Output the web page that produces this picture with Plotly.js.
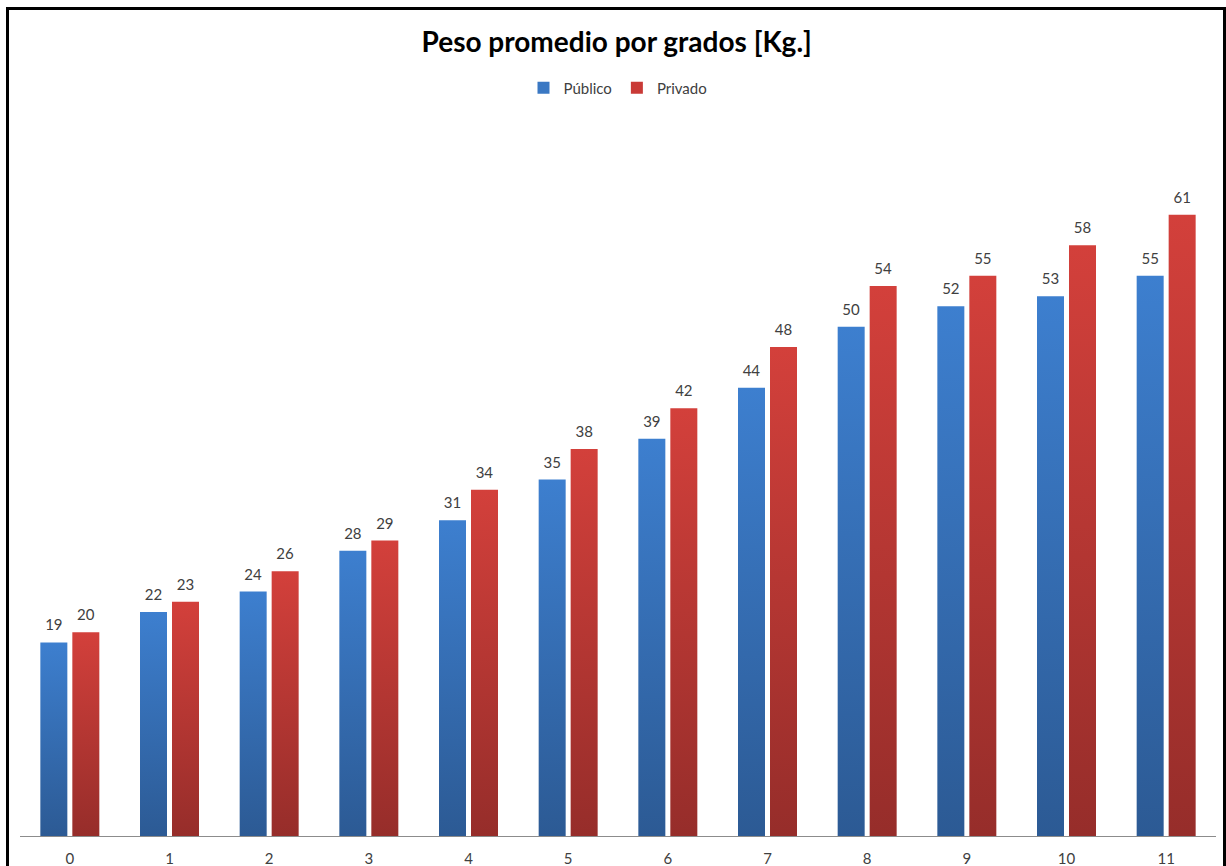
<!DOCTYPE html>
<html>
<head>
<meta charset="utf-8">
<script src="https://cdn.plot.ly/plotly-3.0.1.min.js"></script>
<style>
  html, body { margin: 0; padding: 0; background: #fff; overflow: hidden; }
  #chart { position: absolute; left: 0; top: 0; width: 1226px; height: 866px; }
  #frame { position: absolute; left: 6px; top: 7px; width: 1214px; height: 900px;
           border: 3px solid #000; border-bottom: none; pointer-events: none; }
</style>
</head>
<body>
<div id="chart"></div>
<div id="frame"></div>
<script>
const grados = ['0','1','2','3','4','5','6','7','8','9','10','11'];
const publico = [19, 22, 24, 28, 31, 35, 39, 44, 50, 52, 53, 55];
const privado = [20, 23, 26, 29, 34, 38, 42, 48, 54, 55, 58, 61];

const font = 'Lato, "Open Sans", sans-serif';

const traces = [
  {
    type: 'bar', name: 'Público', x: grados, y: publico,
    marker: { color: '#3a78c3' },
    text: publico.map(String), textposition: 'outside', cliponaxis: false,
    textfont: { family: font, size: 15, color: '#404040' }
  },
  {
    type: 'bar', name: 'Privado', x: grados, y: privado,
    marker: { color: '#c93a36' },
    text: privado.map(String), textposition: 'outside', cliponaxis: false,
    textfont: { family: font, size: 15, color: '#404040' }
  }
];

const layout = {
  width: 1226, height: 866,
  margin: { l: 20, r: 10, t: 123, b: 30 },
  paper_bgcolor: '#ffffff', plot_bgcolor: '#ffffff',
  font: { family: font, size: 15, color: '#404040' },
  title: {
    text: '<b>Peso promedio por grados [Kg.]</b>',
    font: { family: font, size: 28, color: '#000000' },
    x: 0.503, xanchor: 'center', y: 1 - 42 / 866, yanchor: 'middle', yref: 'container'
  },
  showlegend: true,
  legend: {
    orientation: 'h', x: 0.5, xanchor: 'center', y: 1.049, yanchor: 'middle',
    font: { family: font, size: 15, color: '#404040' },
    itemwidth: 30, traceorder: 'normal'
  },
  barmode: 'group', bargap: 0.358, bargroupgap: 0.156,
  xaxis: {
    type: 'category', showgrid: false, zeroline: false,
    showline: true, linecolor: '#8c8c8c', linewidth: 1,
    ticks: 'outside', ticklen: 9, tickcolor: 'rgba(0,0,0,0)',
    tickfont: { family: font, size: 15, color: '#404040' }
  },
  yaxis: {
    range: [0, 70], visible: false, showgrid: false, zeroline: false, fixedrange: true
  }
};

Plotly.newPlot('chart', traces, layout, { displayModeBar: false, staticPlot: true }).then(function (gd) {
  const svg = gd.querySelector('.main-svg');
  const ns = 'http://www.w3.org/2000/svg';
  let defs = svg.querySelector('defs');
  if (!defs) { defs = document.createElementNS(ns, 'defs'); svg.insertBefore(defs, svg.firstChild); }
  function grad(id, c1, c2) {
    const lg = document.createElementNS(ns, 'linearGradient');
    lg.setAttribute('id', id);
    lg.setAttribute('x1', '0'); lg.setAttribute('y1', '0');
    lg.setAttribute('x2', '0'); lg.setAttribute('y2', '1');
    [[0, c1], [1, c2]].forEach(function (s) {
      const st = document.createElementNS(ns, 'stop');
      st.setAttribute('offset', s[0]);
      st.setAttribute('stop-color', s[1]);
      lg.appendChild(st);
    });
    defs.appendChild(lg);
  }
  grad('gPub', '#3d7fcf', '#2c5a94');
  grad('gPriv', '#d3403b', '#962d2a');
  const ids = ['gPub', 'gPriv'];
  gd.querySelectorAll('.barlayer .trace').forEach(function (t, i) {
    t.querySelectorAll('.point path').forEach(function (p) {
      p.style.fill = 'url(#' + ids[i] + ')';
    });
    t.querySelectorAll('.bartext').forEach(function (tx) {
      const tr = tx.getAttribute('transform') || '';
      tx.setAttribute('transform', 'translate(0,-6) ' + tr);
    });
  });
});
</script>
</body>
</html>
